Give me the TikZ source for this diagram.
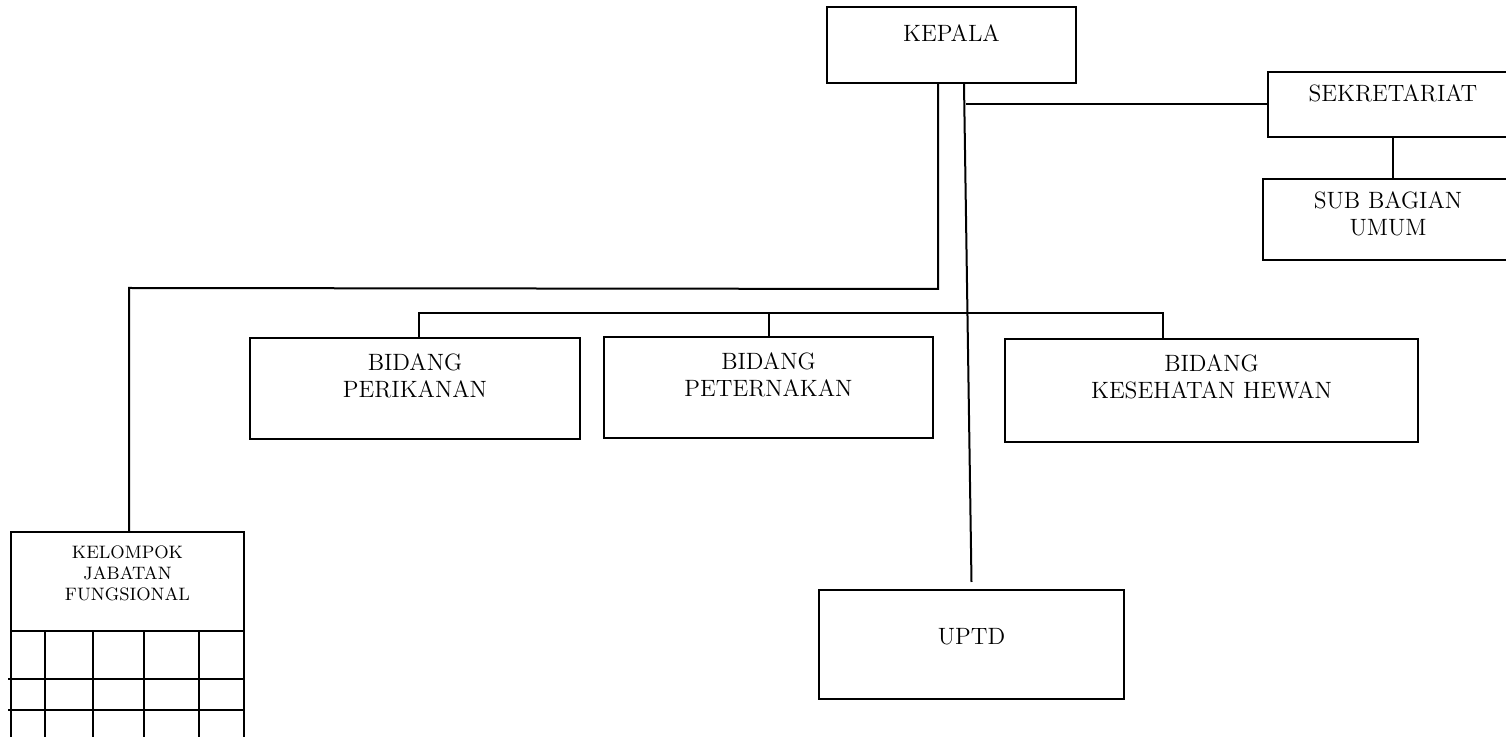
\documentclass[tikz,border=0pt]{standalone}
\tikzset{
  unit/.style={draw, line width=1pt, anchor=north west, inner sep=0pt},
  link/.style={line width=1pt},
  caption/.style={font=\fontsize{11.8}{13.8}\selectfont, align=center, inner sep=0pt, anchor=north},
  smallcaption/.style={caption, font=\fontsize{9}{10.5}\selectfont},
}
\begin{document}
\begin{tikzpicture}[x=0.5pt,y=-0.5pt]
\useasboundingbox (0,0) rectangle (1506,737);
\clip (0,0) rectangle (1506,737);
%top
\node[unit, minimum width=124.5pt, minimum height=38pt, label={[caption, yshift=-9pt]north:KEPALA}] (kepala) at (826,6) {};
\node[unit, minimum width=125pt, minimum height=32.5pt, label={[caption, yshift=-6.5pt]north:SEKRETARIAT}] (sekretariat) at (1267,71) {};
\node[unit, minimum width=125pt, minimum height=40.5pt, label={[caption, yshift=-6.5pt]north:SUB BAGIAN\\UMUM}] (subbagian) at (1262,178) {};
%bidang
\node[unit, minimum width=165pt, minimum height=50.5pt, label={[caption, yshift=-8pt]north:BIDANG\\PERIKANAN}] (perikanan) at (249,337) {};
\node[unit, minimum width=164.5pt, minimum height=50.5pt, label={[caption, yshift=-8pt]north:BIDANG\\PETERNAKAN}] (peternakan) at (603,336) {};
\node[unit, minimum width=206.5pt, minimum height=51.5pt, label={[caption, yshift=-8pt]north:BIDANG\\KESEHATAN HEWAN}] (kesehatan) at (1004,338) {};
\node[unit, minimum width=152.5pt, minimum height=54.5pt, label={[caption, yshift=-19.5pt]north:UPTD}] (uptd) at (818,589) {};
\node[unit, minimum width=116.5pt, minimum height=110pt, label={[smallcaption, yshift=-7pt]north:KELOMPOK\\JABATAN\\FUNGSIONAL}] (kelompok) at (10,531) {};
%lines
\coordinate (fork) at (938,289);
\coordinate (kelbend) at (129,288);
\coordinate (uptdtop) at (964,84);
\coordinate (busL) at (419,313);
\coordinate (busR) at (1163,313);
\draw[link] (kepala.south -| fork) -- (fork) -- (kelbend) -- (kelompok.north -| kelbend);
\draw[link] (uptdtop) -- ([yshift=3.5pt]uptd.north);
\draw[link] (sekretariat.west -| 966,0) -- (sekretariat.west);
\draw[link] (sekretariat.south) -- (sekretariat.south |- subbagian.north);
\draw[link] (perikanan.north -| busL) -- (busL) -- (busR) -- (kesehatan.north -| busR);
\draw[link] (peternakan.north) -- (peternakan.north |- busL);
%grid
\draw[link] (kelompok.west |- 0,631) -- (kelompok.east |- 0,631);
\foreach \gx in {45,93,144,199} \draw[link] (\gx,631) -- (\gx,746);
\foreach \gy in {679,710} \draw[link] (8,\gy) -- (kelompok.east |- 0,\gy);
\end{tikzpicture}
\end{document}
